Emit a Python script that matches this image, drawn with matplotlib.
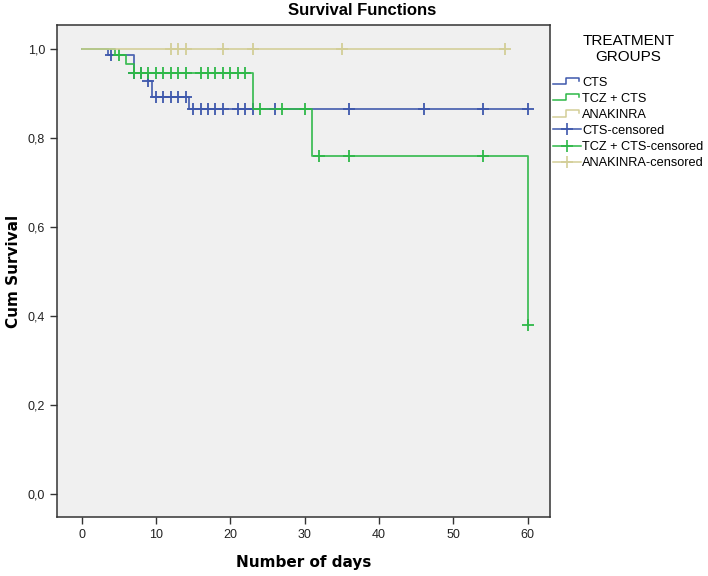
import numpy as np
import matplotlib
matplotlib.use('Agg')
import matplotlib.pyplot as plt
from matplotlib.lines import Line2D
from matplotlib.legend_handler import HandlerBase
from matplotlib.ticker import FuncFormatter

#------------------------------------------------------------------
# data (Kaplan-Meier steps + censored times)
cts_time = [0, 3.5, 7, 9, 9.5, 14.5, 60]
cts_surv = [1.0, 0.987, 0.948, 0.930, 0.894, 0.866, 0.866]
cts_cens = [4, 7, 8, 9, 10, 11, 12, 13, 14, 15, 16, 17, 18, 19, 21, 22, 23, 26, 36, 46, 54, 60]

tcz_time = [0, 4.5, 6, 7, 23, 31, 60]
tcz_surv = [1.0, 0.987, 0.968, 0.948, 0.866, 0.761, 0.380]
tcz_cens = [5, 7, 8, 9, 10, 11, 12, 13, 14, 16, 17, 18, 19, 20, 21, 22, 24, 27, 30, 32, 36, 54, 60]

ana_time = [0, 57]
ana_surv = [1.0, 1.0]
ana_cens = [12, 13, 14, 19, 23, 35, 57]

group_names = ['CTS', 'TCZ + CTS', 'ANAKINRA']
group_colors = ['#3e58ac', '#2eb848', '#d3ce97']

x_ticks = [0, 10, 20, 30, 40, 50, 60]
y_ticks = [0.0, 0.2, 0.4, 0.6, 0.8, 1.0]


#------------------------------------------------------------------
# survival level at time t (step, right continuous)
def level_at(times, surv, t):
    i = np.searchsorted(times, t, side='right') - 1
    return surv[i]


# legend handle drawn as a small step
class StepHandler(HandlerBase):
    def create_artists(self, legend, orig_handle, xdescent, ydescent,
                       width, height, fontsize, trans):
        lo = -ydescent + height * 0.15
        hi = -ydescent + height * 0.85
        x0 = -xdescent
        xs = [x0, x0 + 0.45 * width, x0 + 0.45 * width, x0 + 0.93 * width, x0 + 0.93 * width]
        ys = [lo, lo, hi, hi, hi - 0.35 * height]
        ln = Line2D(xs, ys, color=orig_handle.get_color(), lw=1.1, transform=trans)
        return [ln]


#------------------------------------------------------------------
fig = plt.figure(figsize=(7.08, 5.76), dpi=100)
ax = fig.add_axes([57 / 708, 1 - 517 / 576, (550 - 57) / 708, (517 - 25) / 576])
ax.set_facecolor('#f0f0f0')

groups = [(cts_time, cts_surv, cts_cens),
          (tcz_time, tcz_surv, tcz_cens),
          (ana_time, ana_surv, ana_cens)]

step_lines = []
for (t, s, c), name, col in zip(groups, group_names, group_colors):
    ln, = ax.step(t, s, where='post', color=col, lw=1.3, alpha=0.9)
    step_lines.append(ln)
    cy = [level_at(t, s, v) for v in c]
    ax.plot(c, cy, ls='none', marker='+', ms=8, mew=1.3, color=col)

ax.set_xlim(-3.3, 63)
ax.set_ylim(-0.051, 1.055)
ax.set_xticks(x_ticks)
ax.set_yticks(y_ticks)
ax.yaxis.set_major_formatter(FuncFormatter(lambda v, p: ('%.1f' % v).replace('.', ',')))
ax.tick_params(direction='out', length=5, width=1, colors='#333333', labelsize=9,
               labelcolor='#222222')
for lab in ax.get_xticklabels() + ax.get_yticklabels():
    lab.set_family('Liberation Sans')
for sp in ax.spines.values():
    sp.set_color('#333333')
    sp.set_linewidth(1.1)

ax.set_xlabel('Number of days', fontsize=11, fontweight='bold', family='DejaVu Sans', labelpad=10)
ax.set_ylabel('Cum Survival', fontsize=11, fontweight='bold', family='DejaVu Sans', labelpad=5)
fig.text(0.511, 0.982, 'Survival Functions', ha='center', va='center',
         fontsize=12, fontweight='bold', family='Liberation Sans')

# legend
handles = step_lines + [Line2D([0], [0], color=c, lw=1.1, marker='+', ms=8, mew=1.2)
                        for c in group_colors]
labels = group_names + [n + '-censored' for n in group_names]
hmap = {ln: StepHandler() for ln in step_lines}
leg = fig.legend(handles, labels, handler_map=hmap, loc='upper left',
                 bbox_to_anchor=(553 / 708, 1 - 34 / 576), frameon=False,
                 title='TREATMENT\nGROUPS', title_fontsize=11,
                 handlelength=2.2, handletextpad=0.1, labelspacing=0.32,
                 borderpad=0, borderaxespad=0,
                 prop={'family': 'Liberation Sans', 'size': 9.2})
leg.get_title().set_family('Liberation Sans')
leg.get_title().set_multialignment('center')
leg._legend_box.sep = 9

fig.savefig('out.png', dpi=100)
